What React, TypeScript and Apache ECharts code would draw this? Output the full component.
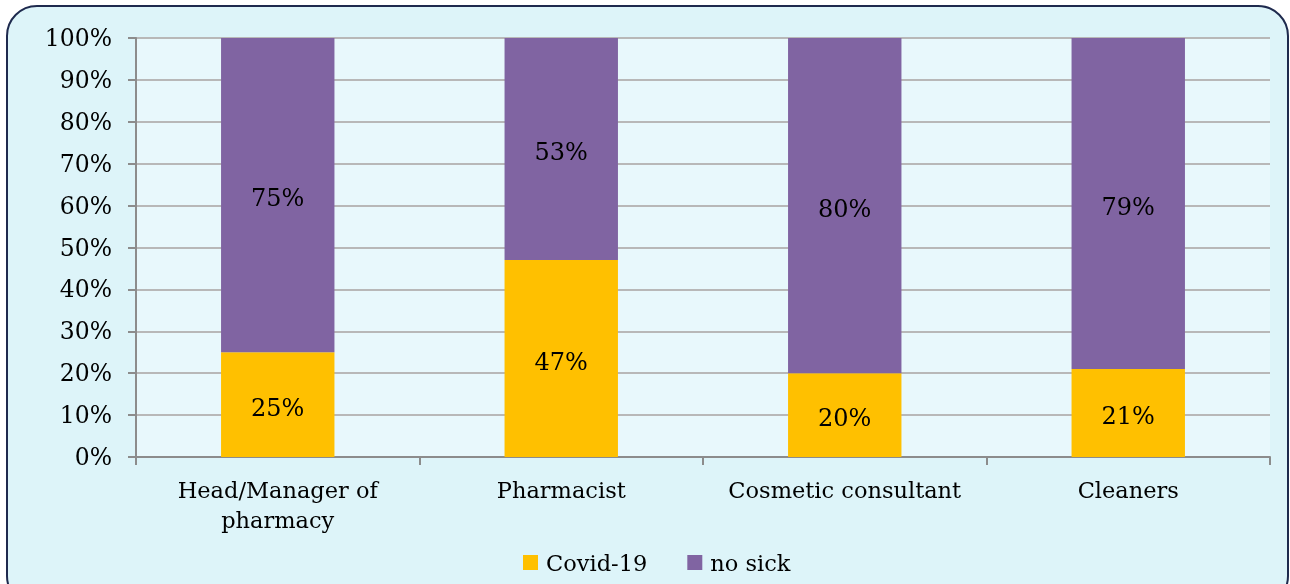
import React, { useEffect, useRef } from "react";
import * as echarts from "echarts";

const categories = ["Head/Manager of\npharmacy", "Pharmacist", "Cosmetic consultant", "Cleaners"];
const covidValues = [25, 47, 20, 21];
const noSickValues = [75, 53, 80, 79];
const seriesNames = ["Covid-19", "no sick"];

const FONT = "DejaVu Serif";

export default function App() {
  const ref = useRef<HTMLDivElement>(null);

  useEffect(() => {
    if (!ref.current) return;
    const chart = echarts.init(ref.current, null, { renderer: "svg" });
    const label = {
      show: true,
      position: "inside" as const,
      offset: [0, 3],
      color: "#000",
      fontFamily: FONT,
      fontSize: 24,
      formatter: (p: any) => `${p.value}%`,
    };
    chart.setOption({
      animation: false,
      backgroundColor: "transparent",
      graphic: [
        {
          type: "rect",
          shape: { x: 7, y: 6, width: 1281, height: 600, r: 30 },
          style: { fill: "#ddf4f9", stroke: "#1e2a4e", lineWidth: 2 },
          z: -10,
        },
        {
          type: "rect",
          shape: { x: 136, y: 38, width: 1134, height: 419 },
          style: { fill: "#e8f8fc" },
          z: -9,
        },
      ],
      grid: { left: 136, right: 20, top: 38, bottom: 127 },
      legend: {
        bottom: 5,
        left: 518,
        itemWidth: 15,
        itemHeight: 15,
        itemGap: 40,
        icon: "rect",
        textStyle: { fontFamily: FONT, fontSize: 22.5, color: "#000", padding: [0, 0, 0, 3] },
        data: seriesNames,
      },
      xAxis: {
        type: "category",
        data: categories,
        axisLine: { lineStyle: { color: "#8c8c8c", width: 2 } },
        axisTick: { show: true, length: 8, lineStyle: { color: "#8c8c8c", width: 2 } },
        axisLabel: {
          color: "#000",
          fontFamily: FONT,
          fontSize: 22.5,
          margin: 18,
          lineHeight: 30,
          interval: 0,
        },
      },
      yAxis: {
        type: "value",
        min: 0,
        max: 100,
        interval: 10,
        axisLine: { show: true, lineStyle: { color: "#8c8c8c", width: 2 } },
        axisTick: { show: true, length: 8, lineStyle: { color: "#8c8c8c", width: 2 } },
        splitLine: { lineStyle: { color: "#b8b8b8", width: 2 } },
        axisLabel: {
          color: "#000",
          fontFamily: FONT,
          fontSize: 23.5,
          margin: 24,
          formatter: "{value}%",
        },
      },
      series: [
        {
          name: seriesNames[0],
          type: "bar",
          stack: "total",
          data: covidValues,
          barWidth: "40%",
          itemStyle: { color: "#FFC000" },
          label,
        },
        {
          name: seriesNames[1],
          type: "bar",
          stack: "total",
          data: noSickValues,
          barWidth: "40%",
          itemStyle: { color: "#8064A2" },
          label,
        },
      ],
    });
    return () => chart.dispose();
  }, []);

  return (
    <div style={{ position: "fixed", left: 0, top: 0, width: 1290, height: 584 }}>
      <div ref={ref} style={{ width: 1290, height: 584 }} />
    </div>
  );
}
